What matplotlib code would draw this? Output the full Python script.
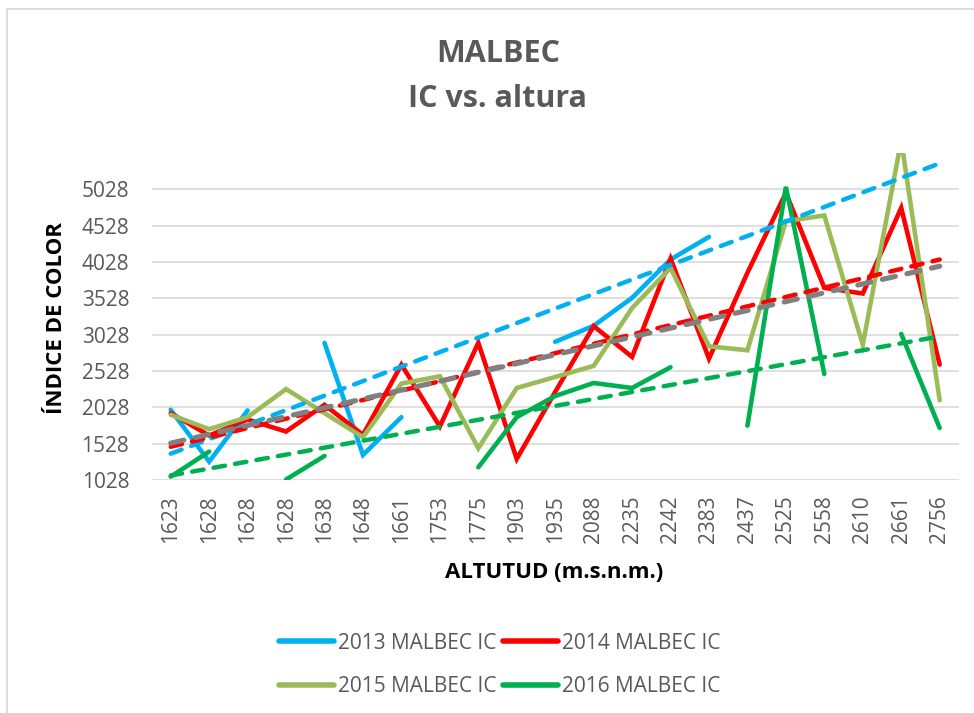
import numpy as np
import matplotlib
matplotlib.use("Agg")
import matplotlib.pyplot as plt
from matplotlib.lines import Line2D

plt.rcParams['font.family'] = ['Open Sans', 'DejaVu Sans']

nan = np.nan

# altitudes (category labels)
altitudes = ['1623', '1628', '1628', '1628', '1638', '1648', '1661', '1753', '1775', '1903',
             '1935', '2088', '2235', '2242', '2383', '2437', '2525', '2558', '2610', '2661', '2756']

ic_2013 = [1994, 1281, 1985, nan, 2914, 1373, 1893, nan, nan, nan,
           2930, 3150, 3535, 4062, 4374, nan, nan, nan, nan, nan, nan]
ic_2014 = [1948, 1640, 1860, 1695, 2063, 1649, 2615, 1765, 2916, 1318,
           2240, 3146, 2722, 4075, 2698, 3880, 4980, 3672, 3594, 4773, 2616]
ic_2015 = [1925, 1727, 1893, 2279, 1948, 1617, 2355, 2455, 1465, 2294,
           2446, 2598, 3395, 3947, 2868, 2813, 4590, 4668, 2891, 5700, 2125]
ic_2016 = [1074, 1419, nan, 1035, 1359, nan, nan, nan, 1203, 1893,
           2184, 2363, 2294, 2580, nan, 1776, 5062, 2487, nan, 3038, 1744]

# linear trendlines (start / end value)
trend_2013 = [1390, 5385]
trend_2014 = [1485, 4062]
trend_2015 = [1535, 3970]
trend_2016 = [1090, 3005]

labels = ['2013 MALBEC IC', '2014 MALBEC IC', '2015 MALBEC IC', '2016 MALBEC IC']
colors = ['#00B0F0', '#FF0000', '#9BBB59', '#00B050']
trend_colors = ['#00B0F0', '#FF0000', '#808080', '#00B050']
yticks = [1028, 1528, 2028, 2528, 3028, 3528, 4028, 4528, 5028]

W, H = 974, 713
fig = plt.figure(figsize=(W / 100, H / 100), dpi=100)
ax = fig.add_axes([151.5 / W, 1 - 480 / H, (958.9 - 151.5) / W, (480 - 153) / H])

x = np.arange(len(altitudes))
handles = []
for vals, c, lab in zip([ic_2013, ic_2014, ic_2015, ic_2016], colors, labels):
    h, = ax.plot(x, vals, color=c, lw=3.3, solid_capstyle='round',
                 solid_joinstyle='miter', label=lab, zorder=3)
    handles.append(h)

for tr, c in zip([trend_2013, trend_2014, trend_2015, trend_2016], trend_colors):
    lw = 3.7 if c == '#808080' else 3.2
    ax.plot([x[0], x[-1]], tr, color=c, lw=lw, linestyle=(0, (2.6, 2.3)),
            dash_capstyle='round', zorder=4)

ax.set_xlim(-0.5, len(altitudes) - 0.5)
ax.set_ylim(1028, 5528)
ax.set_yticks(yticks)
ax.set_xticks(x)
ax.set_xticklabels(altitudes, rotation=90)
ax.tick_params(axis='both', length=0, labelsize=15, labelcolor='#595959')
ax.tick_params(axis='y', pad=16)
ax.tick_params(axis='x', pad=11)
ax.grid(axis='y', color='#D9D9D9', lw=1.2)
ax.set_axisbelow(True)
for s in ax.spines.values():
    s.set_visible(False)

fig.text(498 / W, 1 - 54 / H, 'MALBEC', ha='center', va='center',
         fontsize=22, fontweight='bold', color='#595959')
fig.text(497 / W, 1 - 99 / H, 'IC vs. altura', ha='center', va='center',
         fontsize=22, fontweight='bold', color='#595959')
fig.text(57 / W, 1 - 318 / H, 'ÍNDICE DE COLOR', rotation=90, ha='center', va='center',
         fontsize=16, fontweight='bold', color='black')
fig.text(554 / W, 1 - 572 / H, 'ALTUTUD (m.s.n.m.)', ha='center', va='center',
         fontsize=16, fontweight='bold', color='black')

leg = fig.legend([handles[0], handles[2], handles[1], handles[3]],
                 [labels[0], labels[2], labels[1], labels[3]],
                 ncol=2, loc='center', bbox_to_anchor=(500 / W, 1 - 665 / H),
                 frameon=False, fontsize=15, handlelength=2.65, handletextpad=0.2,
                 columnspacing=0.3, labelspacing=1.1)
for t in leg.get_texts():
    t.set_color('#595959')
for lh in leg.get_lines():
    lh.set_linewidth(4)

# chart area border (only top and left visible in the crop)
fig.add_artist(Line2D([7 / W, 7 / W], [0, 1 - 9 / H], color='#D9D9D9', lw=1.3))
fig.add_artist(Line2D([7 / W, 1], [1 - 9 / H, 1 - 9 / H], color='#D9D9D9', lw=1.3))

fig.savefig('out.png', dpi=100, facecolor='white')
